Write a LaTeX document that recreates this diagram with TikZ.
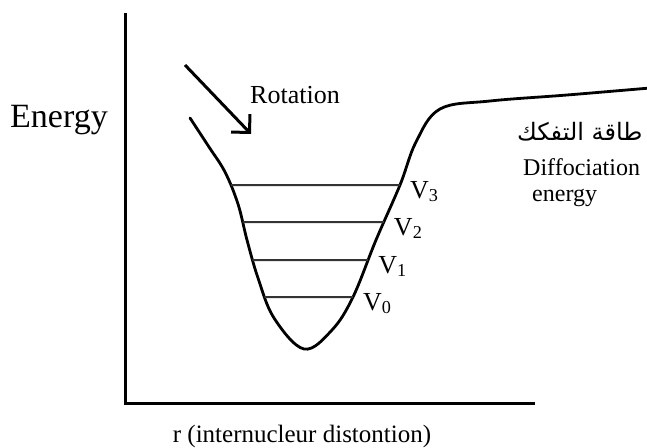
\documentclass[tikz,border=0pt]{standalone}
\usepackage{fontspec}
\setmainfont{Liberation Serif}
\newfontfamily\arabicfont[Script=Arabic]{DejaVu Sans}
\TeXXeTstate=1
\usepackage{tikz}
\usetikzlibrary{arrows.meta,intersections}
\tikzstyle{axisline} = [line width=3pt,line join=miter]
\tikzstyle{wellline} = [line width=2.8pt,line cap=round]
\tikzstyle{levelline} = [line width=2pt,black!80]
\tikzstyle{rotarrow} = [line width=3pt,-{Straight Barb[length=13pt,width=26pt,line width=3pt]}]
\tikzstyle{lbl} = [inner sep=0pt,font=\fontsize{26}{30}\selectfont]

\begin{document}
\begin{tikzpicture}[x=1pt,y=-1pt]
    \useasboundingbox (0,0) rectangle (647,447);
    \coordinate (top) at (125,13);
    \coordinate (O) at (125,403);
    \coordinate (xend) at (535,403);
    % axes
    \draw[axisline] (top) -- (O) -- (xend);
    \node[lbl,anchor=base west,font=\fontsize{34}{38}\selectfont] (energy) at (10,127) {Energy};
    \node[lbl,anchor=base,font=\fontsize{25}{30}\selectfont] (rlabel) at (302,442) {r (internucleur distontion)};
    % potential well
    \draw[wellline,name path=well] plot[smooth,tension=0.6] coordinates {
        (190,118) (209,147) (225,172) (238,204) (247,240) (258,278)
        (274,318) (304,349) (332,330) (353,297) (376,240)
        (400,185) (416,142) (440,109) (490,101)
        (567,95) (650,88)};
    % vibrational levels
    \foreach \n/\y in {0/297,1/260,2/222,3/185}{
        \path[name path global=lvl\n] (150,\y) -- (480,\y);
        \path[name intersections={of=well and lvl\n,by={L\n a,L\n b},sort by=lvl\n}];
        \draw[levelline] (L\n a) -- (L\n b);
        \node[lbl,anchor=north west,xshift=10pt,yshift=4pt] (V\n) at (L\n b) {V\textsubscript{\n}};
    }
    % rotation arrow
    \coordinate (rotA) at (185,65);
    \coordinate (rotB) at (251,134);
    \draw[rotarrow] (rotA) -- (rotB);
    \node[lbl,anchor=base west] (rotation) at (250,103) {Rotation};
    % dissociation energy
    \node[lbl,anchor=base west,font=\arabicfont\fontsize{24}{28}\selectfont] (diss) at (517,140) {\beginR طاقة التفكك\endR};
    \node[lbl,anchor=base west,font=\fontsize{24}{28}\selectfont] (diffo) at (523,175) {Diffociation};
    \node[lbl,anchor=base west,font=\fontsize{24}{28}\selectfont] (en) at (532,201) {energy};
\end{tikzpicture}
\end{document}
